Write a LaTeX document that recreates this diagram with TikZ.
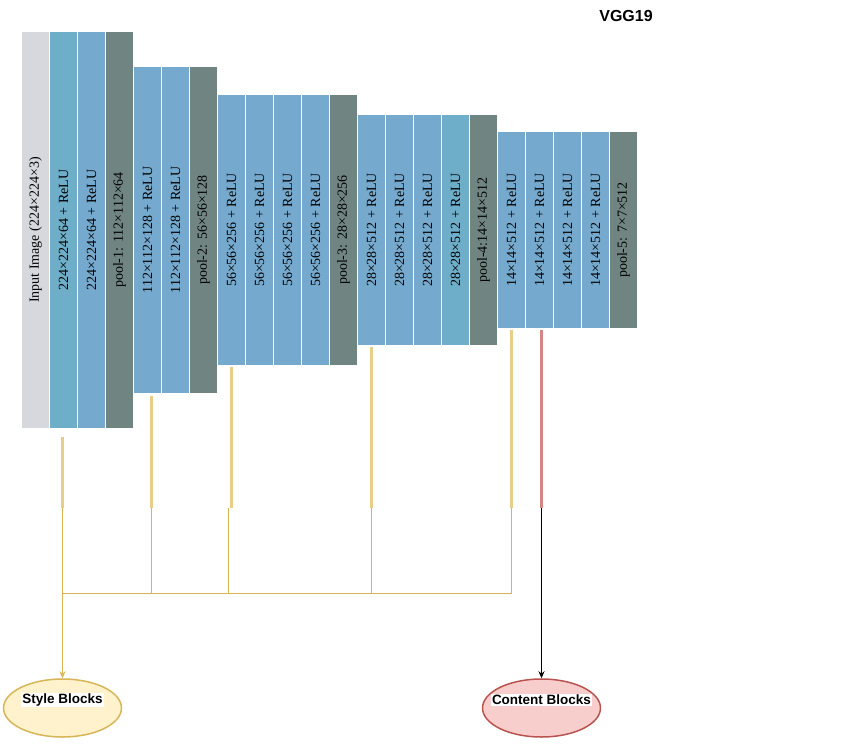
\documentclass[tikz,border=0pt]{standalone}
\usepackage{fontspec}
\setmainfont{Liberation Serif}
\newfontfamily\headfont{Liberation Sans}
\usetikzlibrary{shapes.geometric,arrows.meta}
\definecolor{inputgray}{RGB}{214,216,221}
\definecolor{convblue}{RGB}{117,170,206}
\definecolor{convteal}{RGB}{110,174,201}
\definecolor{poolgray}{RGB}{112,133,129}
\definecolor{styleline}{RGB}{214,182,86}
\definecolor{stylelight}{RGB}{231,206,137}
\definecolor{stylefill}{RGB}{255,242,204}
\definecolor{contentline}{RGB}{184,84,80}
\definecolor{contentlight}{RGB}{212,134,132}
\definecolor{contentfill}{RGB}{248,206,204}

\begin{document}
\begin{tikzpicture}[x=1pt,y=-1pt]
      \useasboundingbox (0,0) rectangle (867,754);
      \tikzstyle{layer}=[rectangle,draw=white,line width=1.2pt,rotate=90,minimum height=28pt,inner sep=0pt,font=\fontsize{14}{16}\selectfont]
      \tikzstyle{input}=[layer,fill=inputgray]
      \tikzstyle{conv}=[layer,fill=convblue]
      \tikzstyle{convt}=[layer,fill=convteal]
      \tikzstyle{pool}=[layer,fill=poolgray]
      \tikzstyle{stage1}=[minimum width=398pt]
      \tikzstyle{stage2}=[minimum width=327pt]
      \tikzstyle{stage3}=[minimum width=272pt]
      \tikzstyle{stage4}=[minimum width=232pt]
      \tikzstyle{stage5}=[minimum width=198pt]
      \node[font=\headfont\bfseries\fontsize{16}{19}\selectfont] (title) at (626,16) {VGG19};
      % block 1
      \node[input,stage1] (img) at (35.5,230) {Input Image (224×224×3)};
      \node[convt,stage1] (c1a) at (63.5,230) {224×224×64 + ReLU};
      \node[conv,stage1] (c1b) at (91.5,230) {224×224×64 + ReLU};
      \node[pool,stage1] (p1) at (119.5,230) {pool-1: 112×112×64};
      % block 2
      \node[conv,stage2] (c2a) at (147.5,230) {112×112×128 + ReLU};
      \node[conv,stage2] (c2b) at (175.5,230) {112×112×128 + ReLU};
      \node[pool,stage2] (p2) at (203.5,230) {pool-2: 56×56×128};
      % block 3
      \node[conv,stage3] (c3a) at (231.5,230) {56×56×256 + ReLU};
      \node[conv,stage3] (c3b) at (259.5,230) {56×56×256 + ReLU};
      \node[conv,stage3] (c3c) at (287.5,230) {56×56×256 + ReLU};
      \node[conv,stage3] (c3d) at (315.5,230) {56×56×256 + ReLU};
      \node[pool,stage3] (p3) at (343.5,230) {pool-3: 28×28×256};
      % block 4
      \node[conv,stage4] (c4a) at (371.5,230) {28×28×512 + ReLU};
      \node[conv,stage4] (c4b) at (399.5,230) {28×28×512 + ReLU};
      \node[conv,stage4] (c4c) at (427.5,230) {28×28×512 + ReLU};
      \node[convt,stage4] (c4d) at (455.5,230) {28×28×512 + ReLU};
      \node[pool,stage4] (p4) at (483.5,230) {pool-4:14×14×512};
      % block 5
      \node[conv,stage5] (c5a) at (511.5,230) {14×14×512 + ReLU};
      \node[conv,stage5] (c5b) at (539.5,230) {14×14×512 + ReLU};
      \node[conv,stage5] (c5c) at (567.5,230) {14×14×512 + ReLU};
      \node[conv,stage5] (c5d) at (595.5,230) {14×14×512 + ReLU};
      \node[pool,stage5] (p5) at (623.5,230) {pool-5: 7×7×512};
      % outputs
      \tikzstyle{blob}=[ellipse,line width=1.5pt,minimum width=118pt,minimum height=58pt,inner sep=0pt]
      \tikzstyle{blobtext}=[fill=white,inner sep=1pt,yshift=8pt,font=\headfont\bfseries\fontsize{13.5}{16}\selectfont]
      \node[blob,draw=styleline,fill=stylefill,label={[blobtext]center:Style Blocks}] (style) at (62.5,708) {};
      \node[blob,draw=contentline,fill=contentfill,label={[blobtext]center:Content Blocks}] (content) at (541.5,708) {};
      \coordinate (s1) at (62.5,508);
      \coordinate (s2) at (151.5,508);
      \coordinate (s3) at (231.5,508);
      \coordinate (s4) at (371.5,508);
      \coordinate (s5) at (511.5,508);
      \coordinate (s6) at (541.5,508);
      \coordinate (bus) at (0,593);
      \tikzstyle{styletap}=[draw=stylelight,line width=2.6pt]
      \tikzstyle{busline}=[draw=styleline,line width=0.8pt]
      \draw[styletap] ([xshift=-1,yshift=-7]c1a.west) -- (s1);
      \draw[styletap] ([xshift=4,yshift=-2]c2a.west) -- (s2);
      \draw[styletap] (c3a.west) -- (s3);
      \draw[styletap] (c4a.west) -- (s4);
      \draw[styletap] (c5a.west) -- (s5);
      \draw[draw=contentlight,line width=2.6pt] ([xshift=2]c5b.west) -- (s6);
      \draw[busline] (s1) -- (s1 |- bus);
      \draw[busline] (s2) -- (s2 |- bus);
      \draw[busline] ([xshift=-3.5]s3) -- ([xshift=-3.5]s3 |- bus);
      \draw[busline] (s4) -- (s4 |- bus);
      \draw[busline] (s5) -- (s5 |- bus);
      \draw[busline] (s1 |- bus) -- (s5 |- bus);
      \draw[draw=styleline,line width=1.6pt,-{Stealth[length=7pt,width=6pt]}] (s1 |- bus) -- (style);
      \draw[line width=1pt,-{Stealth[length=7pt,width=6pt]}] (s6) -- (content);
\end{tikzpicture}
\end{document}
